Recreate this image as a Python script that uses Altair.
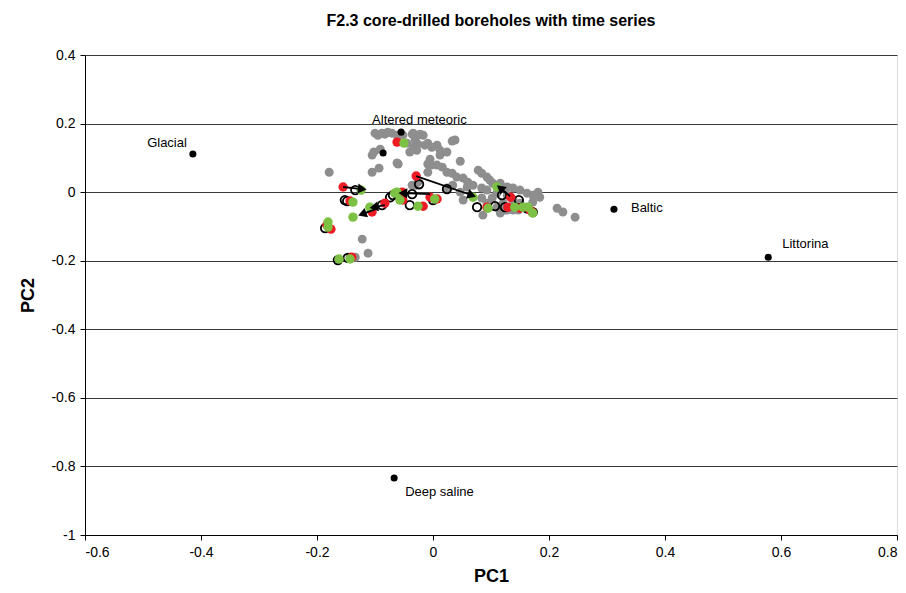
import math
import altair as alt
import pandas as pd

FONT = "Liberation Sans"

# Grey: all samples
gray_x = [-0.179, -0.105, -0.093, -0.062, -0.102, -0.105, -0.091, -0.095, -0.083, -0.071,
          -0.062, -0.100, -0.088, -0.078, -0.052, -0.036, -0.034, -0.026, -0.022, -0.017,
          -0.045, -0.034, -0.031, -0.028, -0.040, -0.026, -0.014, -0.009, -0.002, 0.007,
          0.012, 0.024, 0.033, 0.038, 0.047, -0.060, -0.009, -0.003, 0.007, 0.016,
          -0.005, 0.012, -0.009, 0.024, 0.033, 0.041, 0.052, 0.060, 0.069, 0.078,
          0.084, 0.093, 0.098, 0.103, 0.116, 0.128, 0.138, 0.150, 0.162, 0.172,
          0.181, 0.184, 0.172, 0.162, 0.150, 0.128, 0.116, 0.086, 0.052, 0.047,
          0.059, 0.214, 0.224, 0.245, -0.112, -0.122, -0.143, -0.134, -0.031, -0.036,
          -0.026, 0.034, 0.024, 0.084, 0.093, 0.110, 0.128, 0.138, 0.121, 0.110,
          0.093, 0.084, 0.102, 0.147, 0.124, 0.138]
gray_y = [0.058, 0.058, 0.070, 0.085, 0.117, 0.108, 0.125, 0.166, 0.169, 0.172,
          0.166, 0.172, 0.172, 0.175, 0.166, 0.169, 0.172, 0.166, 0.169, 0.166,
          0.143, 0.131, 0.152, 0.122, 0.117, 0.140, 0.137, 0.143, 0.131, 0.137,
          0.122, 0.117, 0.149, 0.152, 0.090, 0.082, 0.082, 0.079, 0.079, 0.073,
          0.096, 0.108, 0.058, 0.058, 0.055, 0.044, 0.041, 0.029, 0.020, 0.064,
          0.055, 0.044, 0.035, 0.026, 0.026, 0.015, 0.012, 0.006, -0.003, -0.009,
          0.000, -0.015, -0.029, -0.044, -0.032, -0.052, -0.061, -0.067, -0.023, 0.000,
          0.015, -0.047, -0.058, -0.073, -0.178, -0.137, -0.190, -0.190, 0.020, 0.020,
          0.029, 0.020, 0.012, 0.012, 0.006, -0.003, -0.009, -0.023, -0.032, -0.044,
          -0.032, -0.017, -0.017, -0.052, -0.052, -0.052]

# Open circles (first sampling)
ring_x = [-0.148, -0.152, -0.186, -0.164, -0.147, -0.088, -0.074, -0.069, -0.040, -0.024,
          -0.036, 0.000, 0.024, 0.076, 0.107, 0.119, 0.148, 0.124, 0.162, 0.172, -0.134]
ring_y = [-0.026, -0.023, -0.105, -0.198, -0.192, -0.038, -0.015, -0.009, -0.038, 0.023,
          -0.006, -0.023, 0.009, -0.044, -0.041, -0.009, -0.023, -0.044, -0.047, -0.058, 0.006]

# Red samples
red_x = [-0.062, -0.155, -0.143, -0.183, -0.176, -0.140, -0.105, -0.083, -0.052, -0.017,
         -0.053, -0.005, 0.007, -0.029, 0.093, 0.134, 0.129, 0.150, 0.167, 0.171]
red_y = [0.146, 0.015, -0.026, -0.096, -0.108, -0.190, -0.058, -0.032, -0.023, -0.041,
         0.000, -0.015, -0.020, 0.047, -0.044, -0.015, -0.044, -0.047, -0.052, -0.058]

# Green samples
green_x = [-0.050, -0.124, -0.138, -0.181, -0.181, -0.162, -0.143, -0.138, -0.109, -0.062,
           -0.057, -0.026, -0.066, 0.003, 0.069, 0.095, 0.110, 0.141, 0.155, 0.164, 0.172]
green_y = [0.143, 0.006, -0.029, -0.087, -0.102, -0.195, -0.195, -0.073, -0.044, 0.000,
           -0.023, -0.041, -0.003, -0.020, -0.015, -0.047, 0.015, -0.044, -0.044, -0.044, -0.061]

# Extra black sample
black_x = [-0.086]
black_y = [0.114]

# End members
em_names = ["Glacial", "Altered meteoric", "Baltic", "Littorina", "Deep saline"]
em_x = [-0.414, -0.055, 0.312, 0.578, -0.067]
em_y = [0.111, 0.175, -0.050, -0.190, -0.834]
em_dx = [-6, -29, 17, 14, 11]
em_dy = [-11, -12, -1, -13, 14]
em_align = ["right", "left", "left", "left", "left"]

# Time-series arrows (start -> end)
arr_x0 = [-0.029, -0.005, -0.155, -0.083, -0.100, 0.133]
arr_y0 = [0.047, -0.006, 0.015, -0.038, -0.050, -0.012]
arr_x1 = [0.067, -0.052, -0.122, -0.102, -0.122, 0.116]
arr_y1 = [-0.009, -0.003, 0.009, -0.044, -0.064, 0.012]

W, H = 812, 480
XD = [-0.6, 0.8]
YD = [-1.0, 0.4]
px_per_x = W / (XD[1] - XD[0])
px_per_y = H / (YD[1] - YD[0])

angles = []
for a, b, c, d in zip(arr_x0, arr_y0, arr_x1, arr_y1):
    ang = math.degrees(math.atan2((c - a) * px_per_x, (d - b) * px_per_y)) % 360
    angles.append(ang)

df_gray = pd.DataFrame({"x": gray_x, "y": gray_y})
df_ring = pd.DataFrame({"x": ring_x, "y": ring_y})
df_red = pd.DataFrame({"x": red_x, "y": red_y})
df_green = pd.DataFrame({"x": green_x, "y": green_y})
df_black = pd.DataFrame({"x": black_x + em_x, "y": black_y + em_y})
df_arr = pd.DataFrame({"x": arr_x0, "y": arr_y0, "x2": arr_x1, "y2": arr_y1, "angle": angles})
df_em = pd.DataFrame({"x": em_x, "y": em_y, "name": em_names})

xs = alt.Scale(domain=XD, nice=False, zero=False)
ys = alt.Scale(domain=YD, nice=False, zero=False)

xenc = alt.X("x:Q", scale=xs, title="PC1",
             axis=alt.Axis(values=[-0.6, -0.4, -0.2, 0, 0.2, 0.4, 0.6, 0.8], grid=False,
                           labelExpr="'' + datum.value",
                           domainColor="black", tickColor="black", tickSize=5,
                           labelFont=FONT, labelFontSize=14, labelColor="black", labelPadding=5,
                           titleFont=FONT, titleFontSize=18, titleFontWeight="bold",
                           titleColor="black", titlePadding=8))
yenc = alt.Y("y:Q", scale=ys, title="PC2",
             axis=alt.Axis(values=[-1, -0.8, -0.6, -0.4, -0.2, 0, 0.2, 0.4], grid=True,
                           gridColor="#3a3a3a", gridWidth=1,
                           labelExpr="'' + datum.value",
                           domainColor="black", tickColor="black", tickSize=5,
                           labelFont=FONT, labelFontSize=14, labelColor="black", labelPadding=5,
                           titleFont=FONT, titleFontSize=18, titleFontWeight="bold",
                           titleColor="black", titlePadding=13))

gray = alt.Chart(df_gray).mark_circle(size=80, color="#8e8e8e", opacity=1).encode(x=xenc, y=yenc)
ring = alt.Chart(df_ring).mark_point(size=72, shape="circle", filled=False, stroke="black",
                                      strokeWidth=1.8, opacity=1).encode(x="x:Q", y="y:Q")
red = alt.Chart(df_red).mark_circle(size=88, color="#ed1c24", opacity=1).encode(x="x:Q", y="y:Q")
green = alt.Chart(df_green).mark_circle(size=88, color="#7cc143", opacity=1).encode(x="x:Q", y="y:Q")
lines = alt.Chart(df_arr).mark_rule(color="black", strokeWidth=1.8).encode(
    x="x:Q", y="y:Q", x2="x2:Q", y2="y2:Q")
heads = alt.Chart(df_arr).mark_point(shape="triangle-up", filled=True, color="black",
                                     size=100, opacity=1).encode(
    x=alt.X("x2:Q"), y=alt.Y("y2:Q"), angle=alt.Angle("angle:Q", scale=None))
black = alt.Chart(df_black).mark_circle(size=50, color="black", opacity=1).encode(x="x:Q", y="y:Q")

labels = []
for i in range(len(em_names)):
    labels.append(
        alt.Chart(df_em.iloc[[i]]).mark_text(font=FONT, fontSize=13, color="black",
                                             align=em_align[i], baseline="middle",
                                             dx=em_dx[i], dy=em_dy[i]).encode(
            x="x:Q", y="y:Q", text="name:N"))

chart = alt.layer(gray, ring, red, green, lines, heads, black, *labels).properties(
    width=W, height=H,
    title=alt.TitleParams("F2.3 core-drilled boreholes with time series", font=FONT,
                          fontSize=16, fontWeight="bold", color="black", offset=19),
    autosize=alt.AutoSizeParams(type="none"),
    padding={"left": 85, "top": 55, "right": 9, "bottom": 58},
).configure_view(stroke="#808080", strokeWidth=1).configure(background="white")

chart.save("out.html", embed_options={"renderer": "svg", "actions": False})
